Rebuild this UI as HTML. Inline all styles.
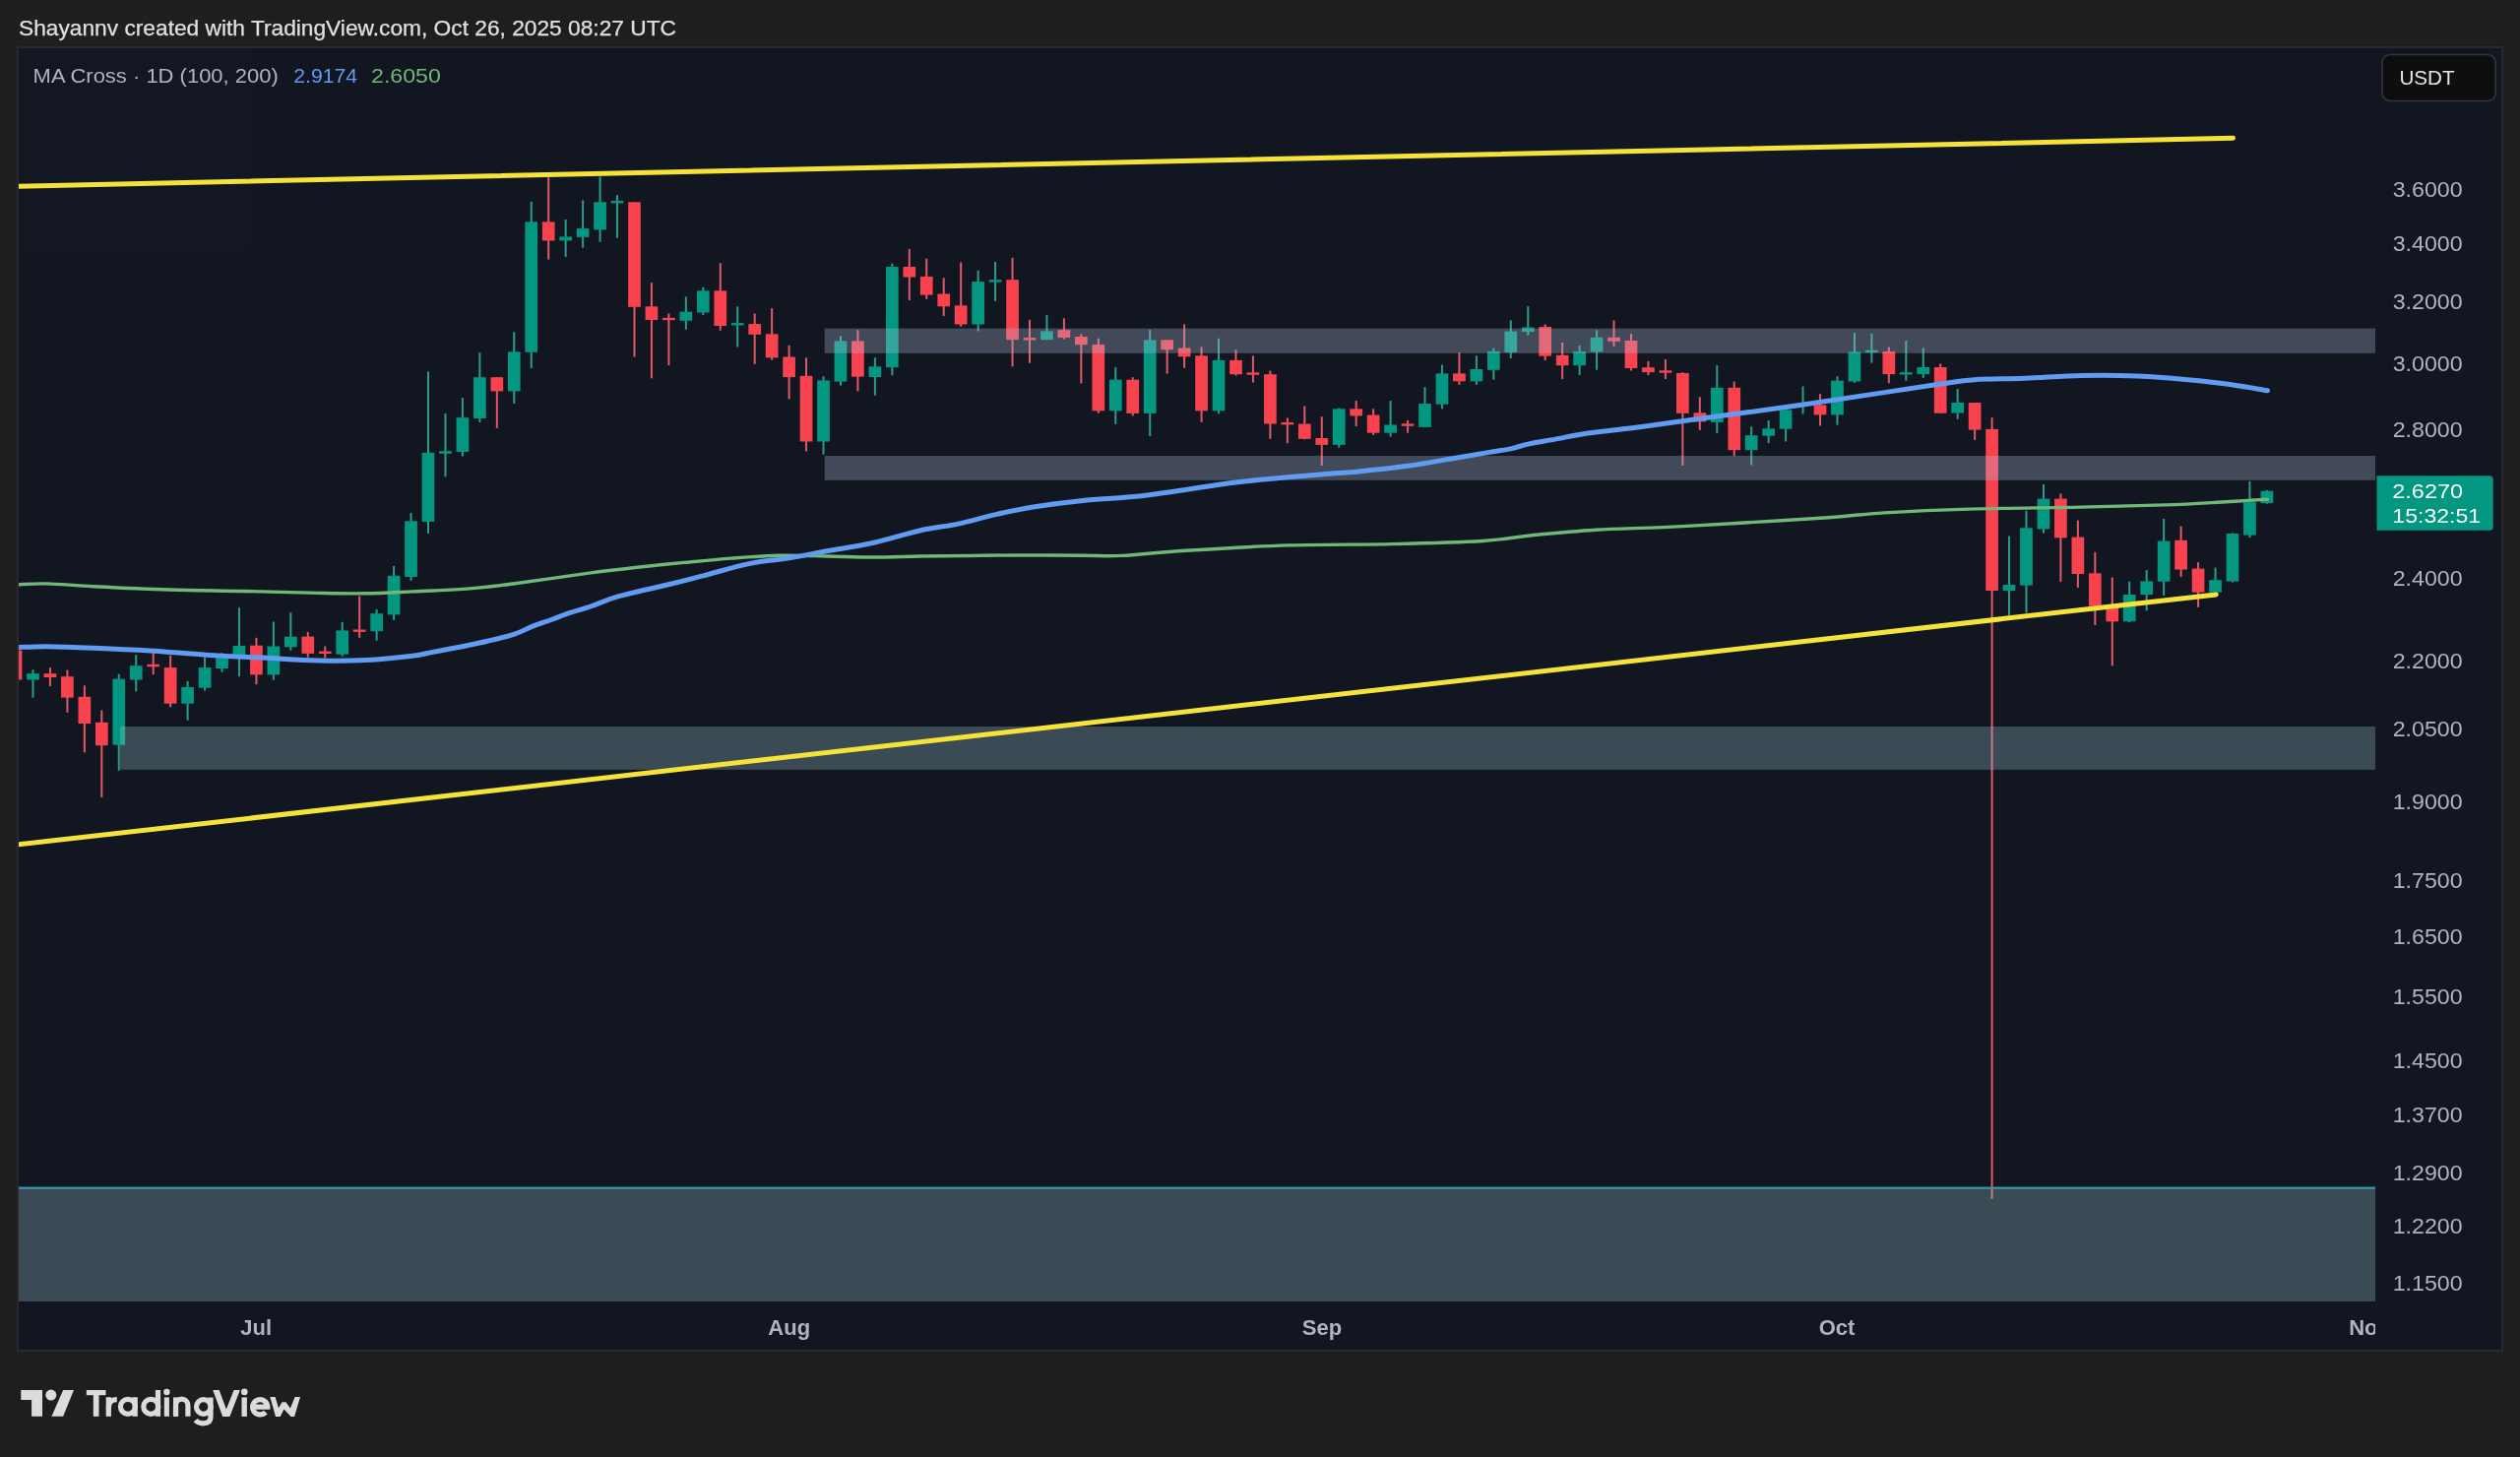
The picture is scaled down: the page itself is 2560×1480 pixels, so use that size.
<!DOCTYPE html><html><head><meta charset="utf-8"><title>Chart</title><style>html,body{margin:0;padding:0;background:#1f1f1f;width:2560px;height:1480px;overflow:hidden}svg{display:block;will-change:transform;opacity:0.999}text{font-family:"Liberation Sans",sans-serif}</style></head><body>
<svg width="2560" height="1480" viewBox="0 0 2560 1480">
<defs><clipPath id="pane"><rect x="19" y="49" width="2394" height="1273"/></clipPath><clipPath id="axis"><rect x="19" y="1322" width="2394" height="49"/></clipPath></defs>
<rect x="0" y="0" width="2560" height="1480" fill="#1f1f1f"/>
<text x="19" y="36" font-size="22" fill="#e1e1e1" textLength="668" lengthAdjust="spacingAndGlyphs" stroke="#e1e1e1" stroke-width="0.25">Shayannv created with TradingView.com, Oct 26, 2025 08:27 UTC</text>
<rect x="18" y="48" width="2524" height="1324" fill="#131722" stroke="#2a2a2e" stroke-width="2"/>
<g clip-path="url(#pane)">
<rect x="15.03" y="656" width="2" height="36" fill="#e05a67"/>
<rect x="9.68" y="660.5" width="12.7" height="30" fill="#f94450"/>
<rect x="32.49" y="680.3" width="2" height="28.3" fill="#2e9c8a"/>
<rect x="27.14" y="684.2" width="12.7" height="6.3" fill="#049882"/>
<rect x="49.94" y="678.1" width="2" height="19" fill="#e05a67"/>
<rect x="44.59" y="684.2" width="12.7" height="3.8" fill="#f94450"/>
<rect x="67.4" y="680.6" width="2" height="43.2" fill="#e05a67"/>
<rect x="62.05" y="687.2" width="12.7" height="21.4" fill="#f94450"/>
<rect x="84.86" y="696.3" width="2" height="68" fill="#e05a67"/>
<rect x="79.51" y="707.8" width="12.7" height="27.2" fill="#f94450"/>
<rect x="102.31" y="721.5" width="2" height="88.4" fill="#e05a67"/>
<rect x="96.97" y="733.8" width="12.7" height="23.4" fill="#f94450"/>
<rect x="119.77" y="684.7" width="2" height="98" fill="#2e9c8a"/>
<rect x="114.42" y="689.7" width="12.7" height="67" fill="#049882"/>
<rect x="137.23" y="665" width="2" height="37.4" fill="#2e9c8a"/>
<rect x="131.88" y="676.2" width="12.7" height="14.3" fill="#049882"/>
<rect x="154.69" y="658.9" width="2" height="26.3" fill="#e05a67"/>
<rect x="149.34" y="674.8" width="12.7" height="2.5" fill="#f94450"/>
<rect x="172.14" y="665.8" width="2" height="52.4" fill="#e05a67"/>
<rect x="166.79" y="678.1" width="12.7" height="36.6" fill="#f94450"/>
<rect x="189.6" y="691.8" width="2" height="39.9" fill="#2e9c8a"/>
<rect x="184.25" y="697.9" width="12.7" height="16.8" fill="#049882"/>
<rect x="207.06" y="667.4" width="2" height="34.3" fill="#2e9c8a"/>
<rect x="201.71" y="678.1" width="12.7" height="20.6" fill="#049882"/>
<rect x="224.51" y="663.3" width="2" height="19.3" fill="#2e9c8a"/>
<rect x="219.16" y="668.3" width="12.7" height="10.7" fill="#049882"/>
<rect x="241.97" y="617.2" width="2" height="70" fill="#2e9c8a"/>
<rect x="236.62" y="655.9" width="12.7" height="9.1" fill="#049882"/>
<rect x="259.43" y="647.8" width="2" height="47.4" fill="#e05a67"/>
<rect x="254.08" y="655.7" width="12.7" height="29.6" fill="#f94450"/>
<rect x="276.88" y="631.5" width="2" height="59.3" fill="#2e9c8a"/>
<rect x="271.53" y="656.5" width="12.7" height="28.8" fill="#049882"/>
<rect x="294.34" y="622.2" width="2" height="38.4" fill="#2e9c8a"/>
<rect x="288.99" y="646.6" width="12.7" height="10.7" fill="#049882"/>
<rect x="311.8" y="642" width="2" height="25.7" fill="#e05a67"/>
<rect x="306.45" y="646.6" width="12.7" height="17.3" fill="#f94450"/>
<rect x="329.26" y="656.5" width="2" height="12" fill="#e05a67"/>
<rect x="323.91" y="661.6" width="12.7" height="2.4" fill="#f94450"/>
<rect x="346.71" y="631.8" width="2" height="35" fill="#2e9c8a"/>
<rect x="341.36" y="640.4" width="12.7" height="24.3" fill="#049882"/>
<rect x="364.17" y="605.4" width="2" height="42.4" fill="#e05a67"/>
<rect x="358.82" y="639.5" width="12.7" height="2.4" fill="#f94450"/>
<rect x="381.63" y="618.9" width="2" height="31.8" fill="#2e9c8a"/>
<rect x="376.28" y="623.2" width="12.7" height="18" fill="#049882"/>
<rect x="399.08" y="575" width="2" height="54.8" fill="#2e9c8a"/>
<rect x="393.73" y="584.8" width="12.7" height="39.6" fill="#049882"/>
<rect x="416.54" y="521.1" width="2" height="68.7" fill="#2e9c8a"/>
<rect x="411.19" y="529.3" width="12.7" height="56.7" fill="#049882"/>
<rect x="434" y="377.4" width="2" height="164.5" fill="#2e9c8a"/>
<rect x="428.65" y="459.8" width="12.7" height="70.1" fill="#049882"/>
<rect x="451.46" y="420.2" width="2" height="64.2" fill="#2e9c8a"/>
<rect x="446.11" y="458.2" width="12.7" height="2.6" fill="#049882"/>
<rect x="468.91" y="404.1" width="2" height="59.4" fill="#2e9c8a"/>
<rect x="463.56" y="424.2" width="12.7" height="34.8" fill="#049882"/>
<rect x="486.37" y="358.1" width="2" height="70.9" fill="#2e9c8a"/>
<rect x="481.02" y="383.2" width="12.7" height="41.8" fill="#049882"/>
<rect x="503.83" y="383.2" width="2" height="51.7" fill="#e05a67"/>
<rect x="498.48" y="383.2" width="12.7" height="14.2" fill="#f94450"/>
<rect x="521.28" y="337.2" width="2" height="72.8" fill="#2e9c8a"/>
<rect x="515.93" y="357.3" width="12.7" height="40.1" fill="#049882"/>
<rect x="538.74" y="204.8" width="2" height="169.3" fill="#2e9c8a"/>
<rect x="533.39" y="225.4" width="12.7" height="132.4" fill="#049882"/>
<rect x="556.2" y="180.2" width="2" height="83.4" fill="#e05a67"/>
<rect x="550.85" y="225.4" width="12.7" height="19" fill="#f94450"/>
<rect x="573.65" y="223" width="2" height="38" fill="#2e9c8a"/>
<rect x="568.3" y="240.4" width="12.7" height="4" fill="#049882"/>
<rect x="591.11" y="203.4" width="2" height="48.2" fill="#2e9c8a"/>
<rect x="585.76" y="232.1" width="12.7" height="8.8" fill="#049882"/>
<rect x="608.57" y="179.4" width="2" height="66.3" fill="#2e9c8a"/>
<rect x="603.22" y="205.3" width="12.7" height="28.1" fill="#049882"/>
<rect x="626.02" y="198.1" width="2" height="43.6" fill="#2e9c8a"/>
<rect x="620.67" y="203.95" width="12.7" height="2.4" fill="#049882"/>
<rect x="643.48" y="205.3" width="2" height="157.3" fill="#e05a67"/>
<rect x="638.13" y="205.3" width="12.7" height="106.5" fill="#f94450"/>
<rect x="660.94" y="287.1" width="2" height="97.2" fill="#e05a67"/>
<rect x="655.59" y="311.3" width="12.7" height="13.7" fill="#f94450"/>
<rect x="678.4" y="318.4" width="2" height="52.7" fill="#e05a67"/>
<rect x="673.05" y="322.8" width="12.7" height="2.4" fill="#f94450"/>
<rect x="695.85" y="301.4" width="2" height="33.4" fill="#2e9c8a"/>
<rect x="690.5" y="316.7" width="12.7" height="9.1" fill="#049882"/>
<rect x="713.31" y="291.7" width="2" height="28.3" fill="#2e9c8a"/>
<rect x="707.96" y="295.3" width="12.7" height="22.2" fill="#049882"/>
<rect x="730.77" y="267.3" width="2" height="68.4" fill="#e05a67"/>
<rect x="725.42" y="295.3" width="12.7" height="35.7" fill="#f94450"/>
<rect x="748.22" y="311.3" width="2" height="41.2" fill="#2e9c8a"/>
<rect x="742.87" y="328.05" width="12.7" height="2.4" fill="#049882"/>
<rect x="765.68" y="318.4" width="2" height="51.4" fill="#e05a67"/>
<rect x="760.33" y="329.1" width="12.7" height="10.7" fill="#f94450"/>
<rect x="783.14" y="313.1" width="2" height="52.7" fill="#e05a67"/>
<rect x="777.79" y="339.3" width="12.7" height="24" fill="#f94450"/>
<rect x="800.6" y="350.8" width="2" height="54.6" fill="#e05a67"/>
<rect x="795.25" y="362.5" width="12.7" height="20.6" fill="#f94450"/>
<rect x="818.05" y="363.3" width="2" height="95.1" fill="#e05a67"/>
<rect x="812.7" y="381.8" width="12.7" height="66.7" fill="#f94450"/>
<rect x="835.51" y="382.3" width="2" height="79.4" fill="#2e9c8a"/>
<rect x="830.16" y="386.4" width="12.7" height="62.1" fill="#049882"/>
<rect x="852.97" y="341.1" width="2" height="50.6" fill="#2e9c8a"/>
<rect x="847.62" y="346.4" width="12.7" height="41.2" fill="#049882"/>
<rect x="870.42" y="335.2" width="2" height="62.2" fill="#e05a67"/>
<rect x="865.07" y="346.4" width="12.7" height="36.2" fill="#f94450"/>
<rect x="887.88" y="363.2" width="2" height="38.6" fill="#2e9c8a"/>
<rect x="882.53" y="372.3" width="12.7" height="10.7" fill="#049882"/>
<rect x="905.34" y="267.7" width="2" height="113.7" fill="#2e9c8a"/>
<rect x="899.99" y="271" width="12.7" height="102.1" fill="#049882"/>
<rect x="922.79" y="252.9" width="2" height="52.2" fill="#e05a67"/>
<rect x="917.44" y="271" width="12.7" height="10.5" fill="#f94450"/>
<rect x="940.25" y="262.7" width="2" height="41.2" fill="#e05a67"/>
<rect x="934.9" y="280.9" width="12.7" height="18.7" fill="#f94450"/>
<rect x="957.71" y="282.3" width="2" height="38.7" fill="#e05a67"/>
<rect x="952.36" y="298.5" width="12.7" height="12.8" fill="#f94450"/>
<rect x="975.16" y="266.4" width="2" height="65.5" fill="#e05a67"/>
<rect x="969.81" y="310.3" width="12.7" height="19.2" fill="#f94450"/>
<rect x="992.62" y="274.6" width="2" height="61.8" fill="#2e9c8a"/>
<rect x="987.27" y="286.1" width="12.7" height="43.4" fill="#049882"/>
<rect x="1010.08" y="266" width="2" height="39.9" fill="#2e9c8a"/>
<rect x="1004.73" y="284.2" width="12.7" height="2.4" fill="#049882"/>
<rect x="1027.54" y="261.9" width="2" height="110.4" fill="#e05a67"/>
<rect x="1022.19" y="284.2" width="12.7" height="60.9" fill="#f94450"/>
<rect x="1044.99" y="324.8" width="2" height="44" fill="#e05a67"/>
<rect x="1039.64" y="343.1" width="12.7" height="2.4" fill="#f94450"/>
<rect x="1062.45" y="319.9" width="2" height="25.5" fill="#2e9c8a"/>
<rect x="1057.1" y="336.4" width="12.7" height="8.7" fill="#049882"/>
<rect x="1079.91" y="323.2" width="2" height="21.4" fill="#e05a67"/>
<rect x="1074.56" y="335.2" width="12.7" height="7.8" fill="#f94450"/>
<rect x="1097.36" y="339.5" width="2" height="50" fill="#e05a67"/>
<rect x="1092.01" y="342" width="12.7" height="8.2" fill="#f94450"/>
<rect x="1114.82" y="343.7" width="2" height="76.1" fill="#e05a67"/>
<rect x="1109.47" y="349.9" width="12.7" height="67.4" fill="#f94450"/>
<rect x="1132.28" y="373" width="2" height="58" fill="#2e9c8a"/>
<rect x="1126.93" y="385.7" width="12.7" height="31.6" fill="#049882"/>
<rect x="1149.74" y="383.2" width="2" height="39.2" fill="#e05a67"/>
<rect x="1144.39" y="385.7" width="12.7" height="34.2" fill="#f94450"/>
<rect x="1167.19" y="335.1" width="2" height="107.9" fill="#2e9c8a"/>
<rect x="1161.84" y="345.3" width="12.7" height="74.6" fill="#049882"/>
<rect x="1184.65" y="345.3" width="2" height="34.3" fill="#e05a67"/>
<rect x="1179.3" y="345.3" width="12.7" height="9.9" fill="#f94450"/>
<rect x="1202.11" y="329.3" width="2" height="44.5" fill="#e05a67"/>
<rect x="1196.76" y="353.5" width="12.7" height="8.8" fill="#f94450"/>
<rect x="1219.56" y="352.4" width="2" height="76.6" fill="#e05a67"/>
<rect x="1214.21" y="361.3" width="12.7" height="56" fill="#f94450"/>
<rect x="1237.02" y="343.7" width="2" height="76.6" fill="#2e9c8a"/>
<rect x="1231.67" y="365.9" width="12.7" height="51.4" fill="#049882"/>
<rect x="1254.48" y="355.2" width="2" height="26.3" fill="#e05a67"/>
<rect x="1249.13" y="365.9" width="12.7" height="14.3" fill="#f94450"/>
<rect x="1271.93" y="361.4" width="2" height="27.1" fill="#e05a67"/>
<rect x="1266.58" y="378.35" width="12.7" height="2.4" fill="#f94450"/>
<rect x="1289.39" y="376.6" width="2" height="69.2" fill="#e05a67"/>
<rect x="1284.04" y="380.2" width="12.7" height="50.3" fill="#f94450"/>
<rect x="1306.85" y="424.4" width="2" height="25.8" fill="#e05a67"/>
<rect x="1301.5" y="428.95" width="12.7" height="2.4" fill="#f94450"/>
<rect x="1324.31" y="412.5" width="2" height="33.8" fill="#e05a67"/>
<rect x="1318.96" y="430.6" width="12.7" height="15.2" fill="#f94450"/>
<rect x="1341.76" y="423.2" width="2" height="49.8" fill="#e05a67"/>
<rect x="1336.41" y="445" width="12.7" height="6.9" fill="#f94450"/>
<rect x="1359.22" y="414.5" width="2" height="40" fill="#2e9c8a"/>
<rect x="1353.87" y="415.3" width="12.7" height="36.6" fill="#049882"/>
<rect x="1376.68" y="407.1" width="2" height="26" fill="#e05a67"/>
<rect x="1371.33" y="415.3" width="12.7" height="7.1" fill="#f94450"/>
<rect x="1394.13" y="415.3" width="2" height="26.7" fill="#e05a67"/>
<rect x="1388.78" y="421.6" width="12.7" height="18.1" fill="#f94450"/>
<rect x="1411.59" y="407.1" width="2" height="36.6" fill="#2e9c8a"/>
<rect x="1406.24" y="431.5" width="12.7" height="8.2" fill="#049882"/>
<rect x="1429.05" y="426.9" width="2" height="12.8" fill="#e05a67"/>
<rect x="1423.7" y="430.4" width="12.7" height="2.4" fill="#f94450"/>
<rect x="1446.5" y="393.1" width="2" height="40.8" fill="#2e9c8a"/>
<rect x="1441.15" y="410" width="12.7" height="23.9" fill="#049882"/>
<rect x="1463.96" y="370.5" width="2" height="44.8" fill="#2e9c8a"/>
<rect x="1458.61" y="379.4" width="12.7" height="31.3" fill="#049882"/>
<rect x="1481.42" y="358" width="2" height="32.9" fill="#e05a67"/>
<rect x="1476.07" y="379.4" width="12.7" height="7.9" fill="#f94450"/>
<rect x="1498.88" y="361.3" width="2" height="29.6" fill="#2e9c8a"/>
<rect x="1493.53" y="375" width="12.7" height="12.3" fill="#049882"/>
<rect x="1516.33" y="353.5" width="2" height="32.2" fill="#2e9c8a"/>
<rect x="1510.98" y="356.8" width="12.7" height="19" fill="#049882"/>
<rect x="1533.79" y="325.5" width="2" height="38.4" fill="#2e9c8a"/>
<rect x="1528.44" y="336.6" width="12.7" height="21.4" fill="#049882"/>
<rect x="1551.25" y="311.1" width="2" height="29.6" fill="#2e9c8a"/>
<rect x="1545.9" y="332.5" width="12.7" height="4.5" fill="#049882"/>
<rect x="1568.7" y="329.5" width="2" height="36.6" fill="#e05a67"/>
<rect x="1563.35" y="332" width="12.7" height="29.7" fill="#f94450"/>
<rect x="1586.16" y="348" width="2" height="37.1" fill="#e05a67"/>
<rect x="1580.81" y="360.8" width="12.7" height="10.4" fill="#f94450"/>
<rect x="1603.62" y="351" width="2" height="30.1" fill="#2e9c8a"/>
<rect x="1598.27" y="357" width="12.7" height="14.2" fill="#049882"/>
<rect x="1621.07" y="335.3" width="2" height="40.4" fill="#2e9c8a"/>
<rect x="1615.72" y="342.7" width="12.7" height="14.8" fill="#049882"/>
<rect x="1638.53" y="325.4" width="2" height="26.4" fill="#e05a67"/>
<rect x="1633.18" y="342.7" width="12.7" height="4.1" fill="#f94450"/>
<rect x="1655.99" y="339.1" width="2" height="37.4" fill="#e05a67"/>
<rect x="1650.64" y="346" width="12.7" height="28" fill="#f94450"/>
<rect x="1673.44" y="366.9" width="2" height="14.2" fill="#e05a67"/>
<rect x="1668.1" y="373.2" width="12.7" height="4.9" fill="#f94450"/>
<rect x="1690.9" y="365" width="2" height="20.1" fill="#e05a67"/>
<rect x="1685.55" y="376.3" width="12.7" height="2.4" fill="#f94450"/>
<rect x="1708.36" y="378.1" width="2" height="94.8" fill="#e05a67"/>
<rect x="1703.01" y="379" width="12.7" height="40.8" fill="#f94450"/>
<rect x="1725.82" y="403.3" width="2" height="33.7" fill="#e05a67"/>
<rect x="1720.47" y="419.3" width="12.7" height="9.1" fill="#f94450"/>
<rect x="1743.27" y="371.1" width="2" height="69.1" fill="#2e9c8a"/>
<rect x="1737.92" y="393.8" width="12.7" height="35.1" fill="#049882"/>
<rect x="1760.73" y="387.5" width="2" height="75.8" fill="#e05a67"/>
<rect x="1755.38" y="393.8" width="12.7" height="63.4" fill="#f94450"/>
<rect x="1778.19" y="433.3" width="2" height="39.1" fill="#2e9c8a"/>
<rect x="1772.84" y="442.2" width="12.7" height="15" fill="#049882"/>
<rect x="1795.64" y="427.1" width="2" height="23" fill="#2e9c8a"/>
<rect x="1790.29" y="435.3" width="12.7" height="7.4" fill="#049882"/>
<rect x="1813.1" y="415.2" width="2" height="33.3" fill="#2e9c8a"/>
<rect x="1807.75" y="416.4" width="12.7" height="19.3" fill="#049882"/>
<rect x="1830.56" y="392.5" width="2" height="28" fill="#2e9c8a"/>
<rect x="1825.21" y="409.4" width="12.7" height="2.4" fill="#049882"/>
<rect x="1848.02" y="400.2" width="2" height="32.3" fill="#e05a67"/>
<rect x="1842.67" y="411.4" width="12.7" height="9.9" fill="#f94450"/>
<rect x="1865.47" y="382.3" width="2" height="49.4" fill="#2e9c8a"/>
<rect x="1860.12" y="386.7" width="12.7" height="34.6" fill="#049882"/>
<rect x="1882.93" y="338.1" width="2" height="50.8" fill="#2e9c8a"/>
<rect x="1877.58" y="357.4" width="12.7" height="30.1" fill="#049882"/>
<rect x="1900.39" y="338.9" width="2" height="29.7" fill="#2e9c8a"/>
<rect x="1895.04" y="355.7" width="12.7" height="2.4" fill="#049882"/>
<rect x="1917.84" y="352.6" width="2" height="36.6" fill="#e05a67"/>
<rect x="1912.49" y="357.1" width="12.7" height="23" fill="#f94450"/>
<rect x="1935.3" y="346" width="2" height="40.7" fill="#2e9c8a"/>
<rect x="1929.95" y="378.1" width="12.7" height="2.4" fill="#049882"/>
<rect x="1952.76" y="353.4" width="2" height="30.5" fill="#2e9c8a"/>
<rect x="1947.41" y="373" width="12.7" height="7.1" fill="#049882"/>
<rect x="1970.21" y="369.4" width="2" height="50.3" fill="#e05a67"/>
<rect x="1964.86" y="373" width="12.7" height="46.7" fill="#f94450"/>
<rect x="1987.67" y="395" width="2" height="30.8" fill="#2e9c8a"/>
<rect x="1982.32" y="409" width="12.7" height="10.5" fill="#049882"/>
<rect x="2005.13" y="409" width="2" height="37.9" fill="#e05a67"/>
<rect x="1999.78" y="409" width="12.7" height="27.6" fill="#f94450"/>
<rect x="2022.59" y="424.2" width="2" height="793.7" fill="#e05a67"/>
<rect x="2017.24" y="435.9" width="12.7" height="164.1" fill="#f94450"/>
<rect x="2040.04" y="544.5" width="2" height="80.5" fill="#2e9c8a"/>
<rect x="2034.69" y="594" width="12.7" height="6" fill="#049882"/>
<rect x="2057.5" y="518.8" width="2" height="103.9" fill="#2e9c8a"/>
<rect x="2052.15" y="536.3" width="12.7" height="58.3" fill="#049882"/>
<rect x="2074.96" y="491.9" width="2" height="49.7" fill="#2e9c8a"/>
<rect x="2069.61" y="506.6" width="12.7" height="30.8" fill="#049882"/>
<rect x="2092.41" y="501.3" width="2" height="89.8" fill="#e05a67"/>
<rect x="2087.06" y="506.6" width="12.7" height="39.7" fill="#f94450"/>
<rect x="2109.87" y="528.6" width="2" height="68.4" fill="#e05a67"/>
<rect x="2104.52" y="545.6" width="12.7" height="37.4" fill="#f94450"/>
<rect x="2127.33" y="560.8" width="2" height="74.2" fill="#e05a67"/>
<rect x="2121.98" y="582.3" width="12.7" height="33.4" fill="#f94450"/>
<rect x="2144.78" y="586.5" width="2" height="89.9" fill="#e05a67"/>
<rect x="2139.43" y="614.5" width="12.7" height="16.8" fill="#f94450"/>
<rect x="2162.24" y="590.7" width="2" height="41.3" fill="#2e9c8a"/>
<rect x="2156.89" y="604" width="12.7" height="27.3" fill="#049882"/>
<rect x="2179.7" y="579" width="2" height="41.3" fill="#2e9c8a"/>
<rect x="2174.35" y="590.4" width="12.7" height="13.6" fill="#049882"/>
<rect x="2197.16" y="527" width="2" height="78" fill="#2e9c8a"/>
<rect x="2191.81" y="549.6" width="12.7" height="41.1" fill="#049882"/>
<rect x="2214.61" y="534.6" width="2" height="51.3" fill="#e05a67"/>
<rect x="2209.26" y="548.8" width="12.7" height="29.7" fill="#f94450"/>
<rect x="2232.07" y="571.1" width="2" height="45.7" fill="#e05a67"/>
<rect x="2226.72" y="577.6" width="12.7" height="24.1" fill="#f94450"/>
<rect x="2249.53" y="576.6" width="2" height="25.1" fill="#2e9c8a"/>
<rect x="2244.18" y="589.2" width="12.7" height="12.5" fill="#049882"/>
<rect x="2266.98" y="541.4" width="2" height="50.1" fill="#2e9c8a"/>
<rect x="2261.63" y="542" width="12.7" height="48.5" fill="#049882"/>
<rect x="2284.44" y="488.8" width="2" height="57.3" fill="#2e9c8a"/>
<rect x="2279.09" y="510.2" width="12.7" height="33.4" fill="#049882"/>
<rect x="2301.9" y="497.9" width="2" height="13.9" fill="#2e9c8a"/>
<rect x="2296.55" y="498.7" width="12.7" height="12.4" fill="#049882"/>
<rect x="837.7" y="333.6" width="1600" height="25.2" fill="rgba(178,196,226,0.30)"/>
<rect x="837.7" y="463" width="1600" height="24.8" fill="rgba(178,196,226,0.30)"/>
<rect x="122.1" y="738" width="2400" height="43.8" fill="rgba(150,196,206,0.31)"/>
<rect x="19" y="1206" width="2400" height="140" fill="rgba(150,196,206,0.31)"/>
<rect x="19" y="1205.6" width="2394" height="2.2" fill="#3a98ac"/>
<path d="M18,593.8 C22.93,593.65 34.73,592.58 47.6,592.9 C60.47,593.22 74.57,594.68 95.2,595.7 C115.83,596.72 146,598.2 171.4,599 C196.8,599.8 222.2,599.93 247.6,600.5 C273,601.07 303.17,602.02 323.8,602.4 C344.43,602.78 355.53,603.05 371.4,602.8 C387.27,602.55 407.57,601.37 419,600.9 C430.43,600.43 429.83,600.55 440,600 C450.17,599.45 466.47,598.77 480,597.6 C493.53,596.43 501.2,595.62 521.2,593 C541.2,590.38 578.93,584.7 600,581.9 C621.07,579.1 631.73,577.95 647.6,576.2 C663.47,574.45 679.32,572.92 695.2,571.4 C711.08,569.88 727.02,568.28 742.9,567.1 C758.78,565.92 774.32,564.65 790.5,564.3 C806.68,563.95 823.82,564.72 840,565 C856.18,565.28 871.73,566 887.6,566 C903.47,566 919.32,565.25 935.2,565 C951.08,564.75 967.02,564.67 982.9,564.5 C998.78,564.33 1010.98,564.05 1030.5,564 C1050.02,563.95 1081.87,564.13 1100,564.2 C1118.13,564.27 1121.83,565.23 1139.3,564.4 C1156.77,563.57 1176.43,560.95 1204.8,559.2 C1233.17,557.45 1274.58,555 1309.5,553.9 C1344.42,552.8 1381.55,553.33 1414.3,552.6 C1447.05,551.87 1481.98,551.02 1506,549.5 C1530.02,547.98 1539.2,545.38 1558.4,543.5 C1577.6,541.62 1599.38,539.52 1621.2,538.2 C1643.02,536.88 1666.17,536.68 1689.3,535.6 C1712.43,534.52 1732.03,533.35 1760,531.7 C1787.97,530.05 1831.38,527.5 1857.1,525.7 C1882.82,523.9 1890.48,522.33 1914.3,520.9 C1938.12,519.47 1966.67,518.07 2000,517.1 C2033.33,516.13 2080.97,515.8 2114.3,515.1 C2147.63,514.4 2176.2,513.75 2200,512.9 C2223.8,512.05 2239.85,510.97 2257.1,510 C2274.35,509.03 2295.77,507.58 2303.5,507.1" fill="none" stroke="#72b87b" stroke-width="3.4" stroke-linejoin="round" stroke-linecap="round"/>
<path d="M18,657.6 C22.93,657.45 34.73,656.6 47.6,656.7 C60.47,656.8 77.73,657.48 95.2,658.2 C112.67,658.92 133.35,659.83 152.4,661 C171.45,662.17 190.45,664.02 209.5,665.2 C228.55,666.38 247.65,667.13 266.7,668.1 C285.75,669.07 306.35,670.58 323.8,671 C341.25,671.42 355.53,671.4 371.4,670.6 C387.27,669.8 407.57,667.57 419,666.2 C430.43,664.83 429.2,664.47 440,662.4 C450.8,660.33 470.15,656.82 483.8,653.8 C497.45,650.78 512.37,647.23 521.9,644.3 C531.43,641.37 534.65,638.67 541,636.2 C547.35,633.73 553.67,631.8 560,629.5 C566.33,627.2 572.33,624.65 579,622.4 C585.67,620.15 591.73,618.78 600,616 C608.27,613.22 615.1,609.48 628.6,605.7 C642.1,601.92 666.72,596.78 681,593.3 C695.28,589.82 700.82,588.28 714.3,584.8 C727.78,581.32 747.62,575.35 761.9,572.4 C776.18,569.45 786.98,569.2 800,567.1 C813.02,565 825.4,562.45 840,559.8 C854.6,557.15 871.73,554.7 887.6,551.2 C903.47,547.7 920.92,541.98 935.2,538.8 C949.48,535.62 960.6,534.8 973.3,532.1 C986,529.4 998.7,525.45 1011.4,522.6 C1024.1,519.75 1034.73,517.37 1049.5,515 C1064.27,512.63 1080.67,510.42 1100,508.4 C1119.33,506.38 1139.3,506 1165.5,502.9 C1191.7,499.8 1228.83,493.22 1257.2,489.8 C1285.57,486.38 1315.23,484.22 1335.7,482.4 C1356.17,480.58 1364.28,480.42 1380,478.9 C1395.72,477.38 1413.33,475.62 1430,473.3 C1446.67,470.98 1466.12,467.32 1480,465 C1493.88,462.68 1504.03,460.97 1513.3,459.4 C1522.57,457.83 1529.12,456.98 1535.6,455.6 C1542.08,454.22 1544.8,452.68 1552.2,451.1 C1559.6,449.52 1569.82,447.95 1580,446.1 C1590.18,444.25 1599.97,441.95 1613.3,440 C1626.63,438.05 1643.17,436.55 1660,434.4 C1676.83,432.25 1686.2,430.93 1714.3,427.1 C1742.4,423.27 1795.27,416.15 1828.6,411.4 C1861.93,406.65 1890.5,402.17 1914.3,398.6 C1938.1,395.03 1956.17,392.15 1971.4,390 C1986.63,387.85 1991.42,386.65 2005.7,385.7 C2019.98,384.75 2039,385.02 2057.1,384.3 C2075.2,383.58 2095.25,381.78 2114.3,381.4 C2133.35,381.02 2152.35,381.18 2171.4,382 C2190.45,382.82 2211.93,384.73 2228.6,386.3 C2245.27,387.87 2258.92,389.65 2271.4,391.4 C2283.88,393.15 2298.15,395.9 2303.5,396.8" fill="none" stroke="#619df2" stroke-width="5" stroke-linejoin="round" stroke-linecap="round"/>
<line x1="0" y1="189.6" x2="2268.5" y2="140.3" stroke="#f7e43a" stroke-width="5" stroke-linecap="round"/>
<line x1="0" y1="860.02" x2="2251.3" y2="603.9" stroke="#f7e43a" stroke-width="5" stroke-linecap="round"/>
</g>
<text x="33.6" y="84.2" font-size="21" fill="#b2b5be" textLength="249.2" lengthAdjust="spacingAndGlyphs">MA Cross · 1D (100, 200)</text>
<text x="298.2" y="84.2" font-size="21" fill="#619df2" textLength="64.9" lengthAdjust="spacingAndGlyphs">2.9174</text>
<text x="377.1" y="84.2" font-size="21" fill="#72b87b" textLength="70.7" lengthAdjust="spacingAndGlyphs">2.6050</text>
<rect x="2420" y="55.5" width="115.2" height="47" rx="8" fill="#0f0f0f" stroke="#34363c" stroke-width="1.6"/>
<text x="2437.4" y="86" font-size="21" fill="#e6e6e6" textLength="56.3" lengthAdjust="spacingAndGlyphs">USDT</text>
<text x="2430.7" y="199.78" font-size="21.3" fill="#b2b5be" textLength="71" lengthAdjust="spacingAndGlyphs">3.6000</text>
<text x="2430.7" y="255.43" font-size="21.3" fill="#b2b5be" textLength="71" lengthAdjust="spacingAndGlyphs">3.4000</text>
<text x="2430.7" y="314.46" font-size="21.3" fill="#b2b5be" textLength="71" lengthAdjust="spacingAndGlyphs">3.2000</text>
<text x="2430.7" y="377.3" font-size="21.3" fill="#b2b5be" textLength="71" lengthAdjust="spacingAndGlyphs">3.0000</text>
<text x="2430.7" y="444.48" font-size="21.3" fill="#b2b5be" textLength="71" lengthAdjust="spacingAndGlyphs">2.8000</text>
<text x="2430.7" y="594.57" font-size="21.3" fill="#b2b5be" textLength="71" lengthAdjust="spacingAndGlyphs">2.4000</text>
<text x="2430.7" y="679.29" font-size="21.3" fill="#b2b5be" textLength="71" lengthAdjust="spacingAndGlyphs">2.2000</text>
<text x="2430.7" y="748.05" font-size="21.3" fill="#b2b5be" textLength="71" lengthAdjust="spacingAndGlyphs">2.0500</text>
<text x="2430.7" y="822.04" font-size="21.3" fill="#b2b5be" textLength="71" lengthAdjust="spacingAndGlyphs">1.9000</text>
<text x="2430.7" y="902.11" font-size="21.3" fill="#b2b5be" textLength="71" lengthAdjust="spacingAndGlyphs">1.7500</text>
<text x="2430.7" y="959.41" font-size="21.3" fill="#b2b5be" textLength="71" lengthAdjust="spacingAndGlyphs">1.6500</text>
<text x="2430.7" y="1020.28" font-size="21.3" fill="#b2b5be" textLength="71" lengthAdjust="spacingAndGlyphs">1.5500</text>
<text x="2430.7" y="1085.22" font-size="21.3" fill="#b2b5be" textLength="71" lengthAdjust="spacingAndGlyphs">1.4500</text>
<text x="2430.7" y="1140.48" font-size="21.3" fill="#b2b5be" textLength="71" lengthAdjust="spacingAndGlyphs">1.3700</text>
<text x="2430.7" y="1199.06" font-size="21.3" fill="#b2b5be" textLength="71" lengthAdjust="spacingAndGlyphs">1.2900</text>
<text x="2430.7" y="1253.38" font-size="21.3" fill="#b2b5be" textLength="71" lengthAdjust="spacingAndGlyphs">1.2200</text>
<text x="2430.7" y="1310.92" font-size="21.3" fill="#b2b5be" textLength="71" lengthAdjust="spacingAndGlyphs">1.1500</text>
<path d="M2414.5,483.3 H2529.2 a3.5,3.5 0 0 1 3.5,3.5 V535.3 a3.5,3.5 0 0 1 -3.5,3.5 H2414.5 Z" fill="#049882"/>
<text x="2430.3" y="505.6" font-size="21" fill="#ffffff" textLength="71.7" lengthAdjust="spacingAndGlyphs">2.6270</text>
<text x="2430.3" y="531.1" font-size="21" fill="#ffffff" textLength="89.9" lengthAdjust="spacingAndGlyphs">15:32:51</text>
<g clip-path="url(#axis)">
<text x="260.2" y="1356.3" font-size="22" font-weight="bold" fill="#b2b5be" text-anchor="middle">Jul</text>
<text x="801.7" y="1356.3" font-size="22" font-weight="bold" fill="#b2b5be" text-anchor="middle">Aug</text>
<text x="1342.9" y="1356.3" font-size="22" font-weight="bold" fill="#b2b5be" text-anchor="middle">Sep</text>
<text x="1866" y="1356.3" font-size="22" font-weight="bold" fill="#b2b5be" text-anchor="middle">Oct</text>
<text x="2407" y="1356.3" font-size="22" font-weight="bold" fill="#b2b5be" text-anchor="middle">Nov</text>
</g>
<g fill="#dcdcdc"><path d="M21.3,1412 H43 V1438.7 H32.1 V1422 H21.3 Z"/><circle cx="51.8" cy="1417.1" r="5.5"/><path d="M64.1,1412 H75 L64.1,1438.7 H52.4 Z"/></g>
<g fill="#dcdcdc"><rect x="87.8" y="1412" width="19.7" height="5.2"/><rect x="94.8" y="1412" width="5.7" height="26.8"/><rect x="107.7" y="1419.2" width="5.2" height="19.6"/><rect x="134.6" y="1419.2" width="5.2" height="19.6"/><rect x="157.9" y="1412" width="5.2" height="26.8"/><rect x="166.8" y="1419.4" width="5.1" height="19.4"/><circle cx="169.4" cy="1414" r="3.2"/><rect x="176" y="1419.4" width="5.1" height="19.4"/><polygon points="216.2,1412 222.7,1412 229.9,1431.6 237.6,1412 243.8,1412 233.4,1439 226.2,1439"/><rect x="245.5" y="1419.4" width="5.4" height="19.5"/><circle cx="248.3" cy="1413.9" r="3.3"/><polygon points="274.3,1418.9 279.6,1418.9 283,1430.3 286.5,1424.3 290.4,1424.3 294.9,1430.6 299.6,1418.9 305,1418.9 299.1,1439 295.6,1439 288.5,1431.6 284.7,1439 280,1439"/></g>
<g fill="none" stroke="#dcdcdc" stroke-width="5.2"><path d="M110.3,1432 C110.3,1424.5 112.5,1421.7 118.8,1421.7"/><circle cx="129.9" cy="1428.8" r="7.5"/><circle cx="153.3" cy="1428.8" r="7.5"/><path d="M178.5,1438.8 V1427.4 a6.2,6.2 0 0 1 12.4,0 V1438.8"/><circle cx="206.8" cy="1429" r="7.3"/><path d="M214,1419.4 V1439.5 C214,1444.6 210.5,1445.8 206.3,1445.8 C202.8,1445.8 200.3,1444.6 198.6,1442.6"/><path d="M256.8,1429.1 H271.8 A7.6,7.6 0 1 0 269.8,1434.4"/></g>
</svg></body></html>
